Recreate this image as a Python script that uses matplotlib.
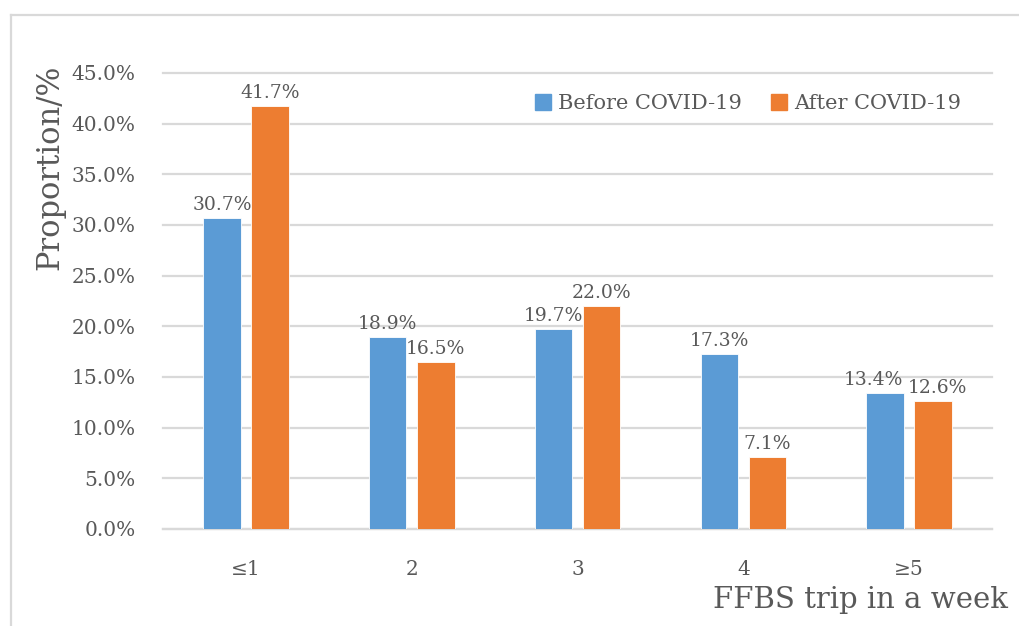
import numpy as np
import matplotlib
matplotlib.use("Agg")
import matplotlib.pyplot as plt
from matplotlib.lines import Line2D
from matplotlib.ticker import FuncFormatter, MultipleLocator

# trips per week, share of respondents before / after COVID-19
categories = ["≤1", "2", "3", "4", "≥5"]
before = [30.7, 18.9, 19.7, 17.3, 13.4]
after = [41.7, 16.5, 22.0, 7.1, 12.6]

bleu = "#5B9BD5"
orange = "#ED7D31"
gris_texte = "#595959"
gris_grille = "#D9D9D9"

plt.rcParams["font.family"] = ["DejaVu Serif"]

fig = plt.figure(figsize=(10.2, 6.26), dpi=100)
ax = fig.add_axes([0.16, 0.155, 0.8125, 0.7284])

x = np.arange(len(categories))
largeur = 0.225
decalage = 0.145

barres_avant = ax.bar(x - decalage, before, largeur, color=bleu, zorder=3,
                      edgecolor="white", linewidth=0.6)
barres_apres = ax.bar(x + decalage, after, largeur, color=orange, zorder=3,
                      edgecolor="white", linewidth=0.6)

# valeurs au-dessus des barres (petit décalage horizontal sur le dernier groupe
# pour que les deux étiquettes ne se chevauchent pas)
ecarts = {("avant", 4): -8, ("apres", 4): 3}
for nom, barres, valeurs in [("avant", barres_avant, before),
                             ("apres", barres_apres, after)]:
    for i, (b, v) in enumerate(zip(barres, valeurs)):
        dx = ecarts.get((nom, i), 0)
        ax.annotate(f"{v:.1f}%", (b.get_x() + b.get_width() / 2, v),
                    xytext=(dx, 3), textcoords="offset points",
                    ha="center", va="bottom", fontsize=13.5, color=gris_texte)

ax.set_ylim(0, 45)
ax.set_xlim(-0.5, len(categories) - 0.5)
ax.yaxis.set_major_locator(MultipleLocator(5))
ax.yaxis.set_major_formatter(FuncFormatter(lambda v, p: f"{v:.1f}%"))
ax.set_xticks(x)
ax.set_xticklabels(categories)
ax.tick_params(axis="both", length=0, labelsize=14.5, colors=gris_texte)
ax.tick_params(axis="y", pad=20)
ax.tick_params(axis="x", pad=22)

ax.grid(axis="y", color=gris_grille, linewidth=1.6, zorder=0)
for ligne in ax.get_ygridlines():
    ligne.set_clip_on(False)
for cote in ["top", "right", "left"]:
    ax.spines[cote].set_visible(False)
ax.spines["bottom"].set_color(gris_grille)
ax.spines["bottom"].set_linewidth(1.6)

# titres des axes
fig.text(0.049, 0.732, "Proportion/%", rotation=90, ha="center", va="center",
         fontsize=22, color=gris_texte)
fig.text(0.988, 0.042, "FFBS trip in a week", ha="right", va="center",
         fontsize=21, color=gris_texte)

# légende
poignees = [Line2D([], [], marker="s", linestyle="", markersize=11, color=bleu),
            Line2D([], [], marker="s", linestyle="", markersize=11, color=orange)]
ax.legend(poignees, ["Before COVID-19", "After COVID-19"], loc="upper right",
          bbox_to_anchor=(0.985, 0.995), ncol=2, frameon=False, fontsize=15,
          handlelength=0.8, handletextpad=0.3, columnspacing=1.4,
          labelcolor=gris_texte)

# cadre du graphique
y_haut = 1 - 15 / 626
x_gauche = 11 / 1020
fig.add_artist(Line2D([x_gauche, 1.0], [y_haut, y_haut], color=gris_grille,
                      linewidth=1.6, transform=fig.transFigure))
fig.add_artist(Line2D([x_gauche, x_gauche], [0, y_haut], color=gris_grille,
                      linewidth=1.6, transform=fig.transFigure))

fig.savefig("out.png", dpi=100, facecolor="white")
